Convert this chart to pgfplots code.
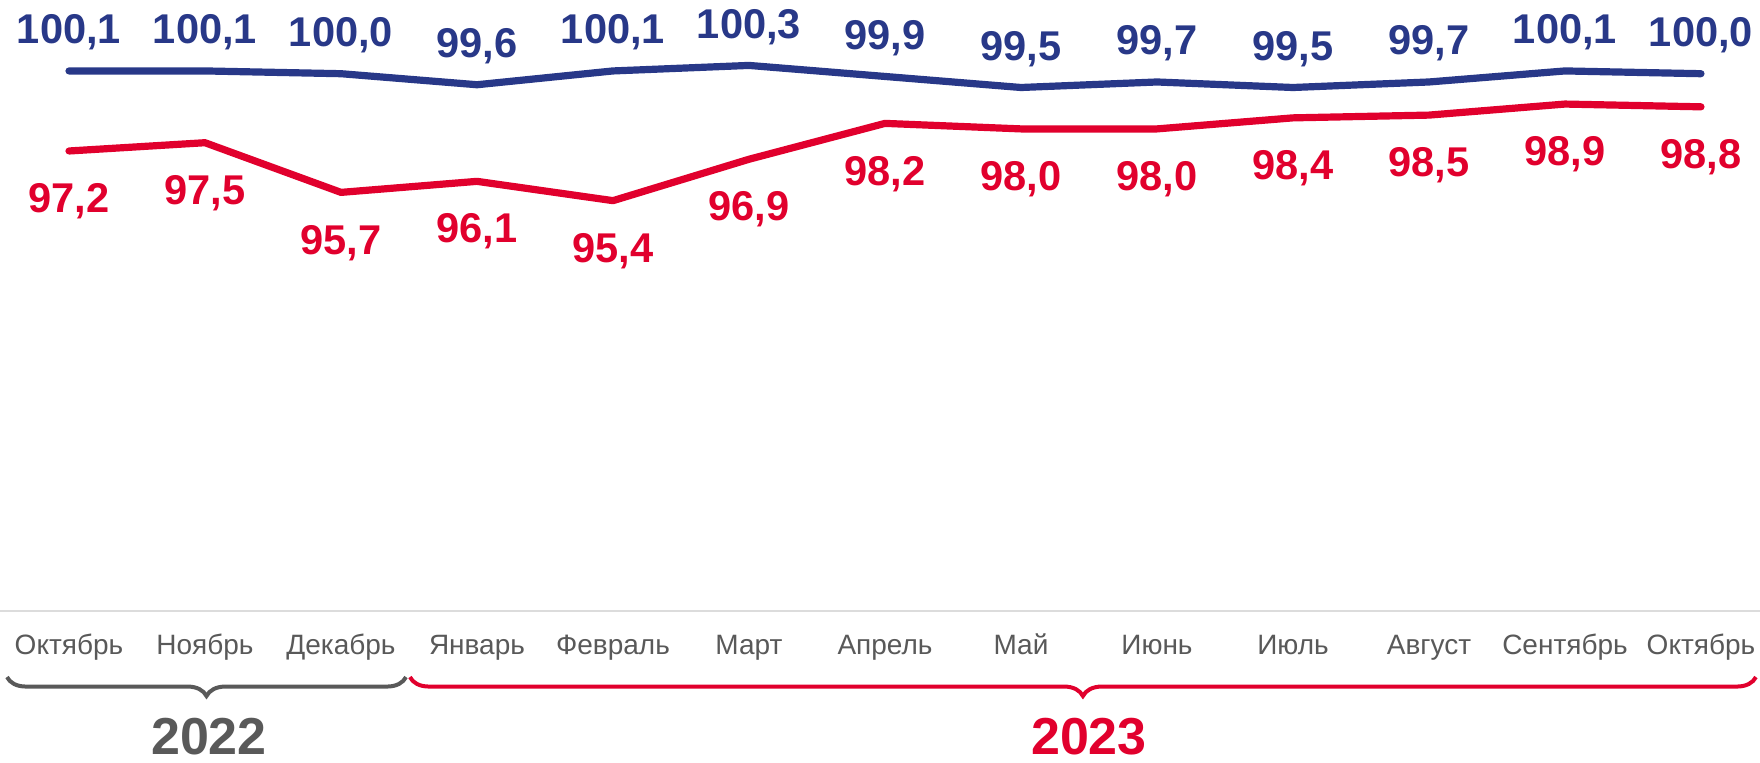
\documentclass[border=0pt]{standalone}
\usepackage{fontspec}
\setmainfont{Liberation Sans}
\usepackage{pgfplots}
\pgfplotsset{compat=1.18}
\usetikzlibrary{decorations.pathreplacing}
\definecolor{cpiblue}{RGB}{40,56,136}
\definecolor{cpired}{RGB}{225,0,45}
\definecolor{txtgray}{RGB}{89,89,89}
\definecolor{gridgray}{RGB}{220,220,220}

\begin{document}
\begin{tikzpicture}
\begin{axis}[
  name=ax,
  scale only axis, width=440pt, height=152.75pt,
  xmin=-0.5074, xmax=12.434, ymin=80.533, ymax=102.670,
  axis x line*=bottom, axis y line=none,
  x axis line style={draw=gridgray, line width=0.45pt, -},
  xtick={0,...,12},
  xticklabels={Октябрь,Ноябрь,Декабрь,Январь,Февраль,Март,Апрель,Май,Июнь,Июль,Август,Сентябрь,Октябрь},
  major tick length=0pt,
  xticklabel style={font=\fontsize{7}{8}\selectfont, text=txtgray, anchor=base, inner sep=0pt, yshift=-10.9pt},
  clip=false,
]
% индекс потребительских цен, % к предыдущему месяцу
\addplot[cpiblue, line width=1.8pt, line cap=round, line join=round, mark=none,
  nodes near coords={\pgfmathprintnumber[fixed,fixed zerofill,precision=1,use comma,assume math mode=true]{\pgfplotspointmeta}},
  every node near coord/.append style={anchor=base, inner sep=0pt, yshift=6.8pt,
    font=\fontsize{10.4}{12}\selectfont\bfseries, text=cpiblue}]
coordinates {
(0,100.1)(1,100.1)(2,100.0)(3,99.6)(4,100.1)(5,100.3)(6,99.9)
(7,99.5)(8,99.7)(9,99.5)(10,99.7)(11,100.1)(12,100.0)
};
\addplot[cpired, line width=1.8pt, line cap=round, line join=round, mark=none,
  nodes near coords={\pgfmathprintnumber[fixed,fixed zerofill,precision=1,use comma,assume math mode=true]{\pgfplotspointmeta}},
  every node near coord/.append style={anchor=north, inner sep=0pt, yshift=-7.25pt,
    font=\fontsize{10.4}{12}\selectfont\bfseries, text=cpired}]
coordinates {
(0,97.2)(1,97.5)(2,95.7)(3,96.1)(4,95.4)(5,96.9)(6,98.2)
(7,98.0)(8,98.0)(9,98.4)(10,98.5)(11,98.9)(12,98.8)
};

% года
\draw[txtgray, line width=1pt, decorate, decoration={brace, mirror, amplitude=4.75pt}]
  (axis cs:-0.4559,78.14) -- (axis cs:2.478,78.14);
\draw[cpired, line width=1pt, decorate, decoration={brace, mirror, amplitude=4.75pt}]
  (axis cs:2.507,78.14) -- (axis cs:12.404,78.14);
\node[anchor=base, text=txtgray, font=\fontsize{13}{15}\selectfont\bfseries] at (axis cs:1.029,75.35) {2022};
\node[anchor=base, text=cpired, font=\fontsize{13}{15}\selectfont\bfseries] at (axis cs:7.5,75.35) {2023};
\end{axis}
\pgfresetboundingbox
\path[use as bounding box] (ax.south west) ++(0,-37.75pt) rectangle (ax.north east);
\end{tikzpicture}
\end{document}
